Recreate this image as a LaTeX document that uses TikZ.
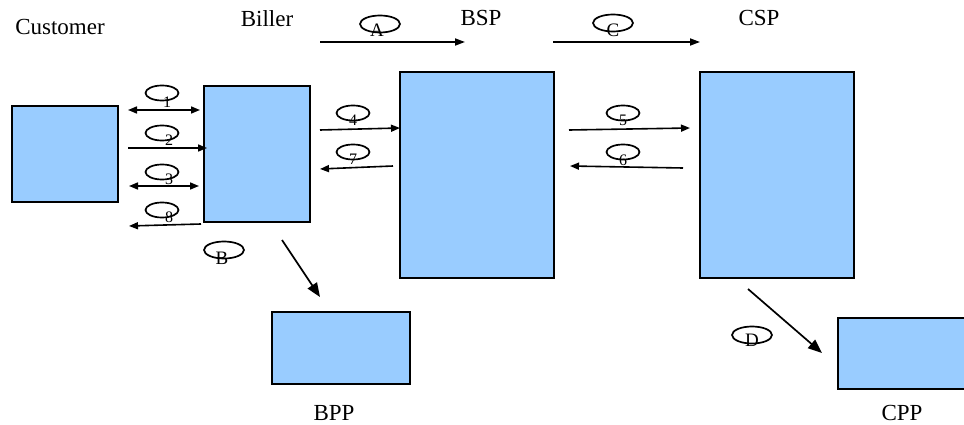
\documentclass[tikz,border=0pt]{standalone}
\usepackage{fontspec}
\setmainfont{Liberation Serif}
\usetikzlibrary{shapes.geometric,arrows.meta}
\definecolor{boxblue}{HTML}{99CCFF}
\begin{document}
\begin{tikzpicture}[x=1pt,y=-1pt]
   \tikzset{party/.style={draw,line width=1.9pt,fill=boxblue,inner sep=0pt}}
   \tikzset{partyname/.style={font=\fontsize{23}{25}\selectfont,inner sep=0pt}}
   \tikzset{tag/.style={draw,ellipse,line width=1.7pt,minimum width=33pt,minimum height=15pt,inner sep=0pt}}
   \tikzset{bigtag/.style={tag,minimum width=40pt,minimum height=17pt}}
   \tikzset{tagnum/.style={font=\fontsize{16}{16}\selectfont,inner sep=0pt}}
   \tikzset{tagletter/.style={font=\fontsize{19}{19}\selectfont,inner sep=0pt}}
   \tikzset{msg/.style={line width=1.6pt,-{Triangle[length=9pt,width=7pt]}}}
   \tikzset{duplex/.style={line width=1.6pt,{Triangle[length=9pt,width=7pt]}-{Triangle[length=9pt,width=7pt]}}}
   \tikzset{flow/.style={line width=1.7pt,-{Triangle[length=10pt,width=7pt]}}}
   \tikzset{store/.style={line width=1.7pt,-{Triangle[length=14pt,width=11pt]}}}
   \useasboundingbox (0,0) rectangle (964,425);
   \clip (0,0) rectangle (964,425);
   % boxes
   \node[party,minimum width=106pt,minimum height=96pt] (cust) at (65,154) {};
   \node[party,minimum width=106pt,minimum height=136pt] (biller) at (257,154) {};
   \node[party,minimum width=154pt,minimum height=206pt] (bsp) at (477,175) {};
   \node[party,minimum width=154pt,minimum height=206pt] (csp) at (777,175) {};
   \node[party,minimum width=138pt,minimum height=72pt] (bpp) at (341,348) {};
   \node[party,minimum width=138pt,minimum height=71pt] (cpp) at (907,353.5) {};
   % names
   \node[partyname] (custname) at (60,27) {Customer};
   \node[partyname] (billername) at (267,19) {Biller};
   \node[partyname] (bspname) at (481,18) {BSP};
   \node[partyname] (cspname) at (759,18) {CSP};
   \node[partyname] (bppname) at (334,413) {BPP};
   \node[partyname] (cppname) at (902,413) {CPP};
   % message ends
   \coordinate (m1s) at (128,110); \coordinate (m1e) at (200,110);
   \coordinate (m2s) at (128,148); \coordinate (m2e) at (207,148);
   \coordinate (m3s) at (129,186); \coordinate (m3e) at (199,186);
   \coordinate (m8s) at (201,224); \coordinate (m8e) at (129,226);
   \coordinate (m4s) at (320,130); \coordinate (m4e) at (400,128);
   \coordinate (m7s) at (393,166); \coordinate (m7e) at (320,169);
   \coordinate (m5s) at (569,130); \coordinate (m5e) at (690,128);
   \coordinate (m6s) at (683,168); \coordinate (m6e) at (570,166);
   \coordinate (fAs) at (320,42);  \coordinate (fAe) at (465,42);
   \coordinate (fCs) at (553,42);  \coordinate (fCe) at (700,42);
   \coordinate (fBs) at (282,240); \coordinate (fBe) at (320,297);
   \coordinate (fDs) at (748,289); \coordinate (fDe) at (822,353);
   % arrows
   \draw[duplex] (m1s) -- (m1e);
   \draw[msg] (m2s) -- (m2e);
   \draw[duplex] (m3s) -- (m3e);
   \draw[msg] (m8s) -- (m8e);
   \draw[msg] (m4s) -- (m4e);
   \draw[msg] (m7s) -- (m7e);
   \draw[msg] (m5s) -- (m5e);
   \draw[msg] (m6s) -- (m6e);
   \draw[flow] (fAs) -- (fAe);
   \draw[flow] (fCs) -- (fCe);
   \draw[store] (fBs) -- (fBe);
   \draw[store] (fDs) -- (fDe);
   % tags
   \node[tag,label={[tagnum,xshift=5pt,yshift=-9pt]center:1}] (t1) at (162,93) {};
   \node[tag,label={[tagnum,xshift=7pt,yshift=-7pt]center:2}] (t2) at (162,133) {};
   \node[tag,label={[tagnum,xshift=7pt,yshift=-7pt]center:3}] (t3) at (162,172) {};
   \node[tag,label={[tagnum,xshift=7pt,yshift=-7pt]center:8}] (t8) at (162,210) {};
   \node[tag,label={[tagnum,yshift=-7pt]center:4}] (t4) at (353,113) {};
   \node[tag,label={[tagnum,yshift=-7pt]center:7}] (t7) at (353,152) {};
   \node[tag,label={[tagnum,yshift=-7pt]center:5}] (t5) at (623,113) {};
   \node[tag,label={[tagnum,yshift=-8pt]center:6}] (t6) at (623,152) {};
   \node[bigtag,label={[tagletter,xshift=-3pt,yshift=-6pt]center:A}] (tA) at (380,24) {};
   \node[bigtag,label={[tagletter,yshift=-7pt]center:C}] (tC) at (613,23) {};
   \node[bigtag,label={[tagletter,xshift=-2pt,yshift=-8pt]center:B}] (tB) at (224,250) {};
   \node[bigtag,label={[tagletter,yshift=-5pt]center:D}] (tD) at (752,335) {};
\end{tikzpicture}
\end{document}
